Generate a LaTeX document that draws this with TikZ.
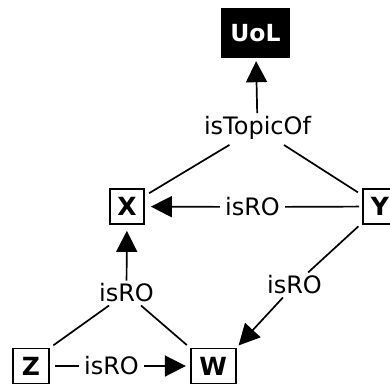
\documentclass[tikz,border=0pt]{standalone}
\usepackage{fontspec}
\setmainfont{DejaVu Sans}
\usetikzlibrary{arrows.meta}
\begin{document}
\begin{tikzpicture}[x=1pt,y=-1pt,
  every node/.style={font=\fontsize{24}{28}\selectfont},
  entity/.style={draw=black, line width=1.7pt, inner sep=0pt,
    font=\fontsize{25}{28}\selectfont\bfseries, minimum height=35pt},
  topbox/.style={fill=black, text=white, inner sep=0pt,
    font=\fontsize{23.5}{28}\selectfont\bfseries,
    minimum width=69pt, minimum height=50pt},
  rel/.style={inner sep=3pt},
  link/.style={line width=1.7pt},
  tip/.style={link, -{Triangle[length=21pt,width=21pt]}},
]
\useasboundingbox (0,0) rectangle (390,383);

% entities
\node[topbox] (uol) at (255.5,33) {UoL};
\node[entity, minimum width=34pt] (x) at (127,206.5) {X};
\node[entity, minimum width=34pt] (y) at (380,206.5) {Y};
\node[entity, minimum width=36.5pt] (z) at (31,366) {Z};
\node[entity, minimum width=45pt] (w) at (213.2,366) {W};

% relation labels
\node[rel] (topic) at (257.5,128) {isTopicOf};
\node[rel] (rxy) at (252.5,207) {isRO};
\node[rel] (ryw) at (294.5,285) {isRO};
\node[rel] (rzwx) at (126.5,293) {isRO};
\node[rel] (rzw) at (111.5,366) {isRO};

% X, Y isTopicOf UoL
\draw[link, shorten <=5pt, shorten >=4pt] (x) -- (topic);
\draw[link, shorten <=5pt, shorten >=4pt] (y) -- (topic);
\draw[tip, shorten >=3pt] (topic) -- (uol);

% Y isRO X
\draw[link, shorten <=3pt, shorten >=2pt] (y) -- (rxy);
\draw[tip, shorten <=2pt, shorten >=6pt] (rxy) -- (x);

% Y isRO W
\draw[link, shorten <=5pt] (y) -- (ryw);
\draw[tip, shorten >=3pt] (ryw) -- (w.north east);

% Z, W isRO X
\draw[link, shorten >=4pt] (rzwx) -- (z.north east);
\draw[link, shorten >=4pt] (rzwx) -- (w.north west);
\draw[tip, shorten >=6pt] (rzwx) -- (x);

% Z isRO W
\draw[link, shorten <=5pt, shorten >=2pt] (z) -- (rzw);
\draw[tip, shorten <=2pt, shorten >=4pt] (rzw) -- (w);
\end{tikzpicture}
\end{document}
